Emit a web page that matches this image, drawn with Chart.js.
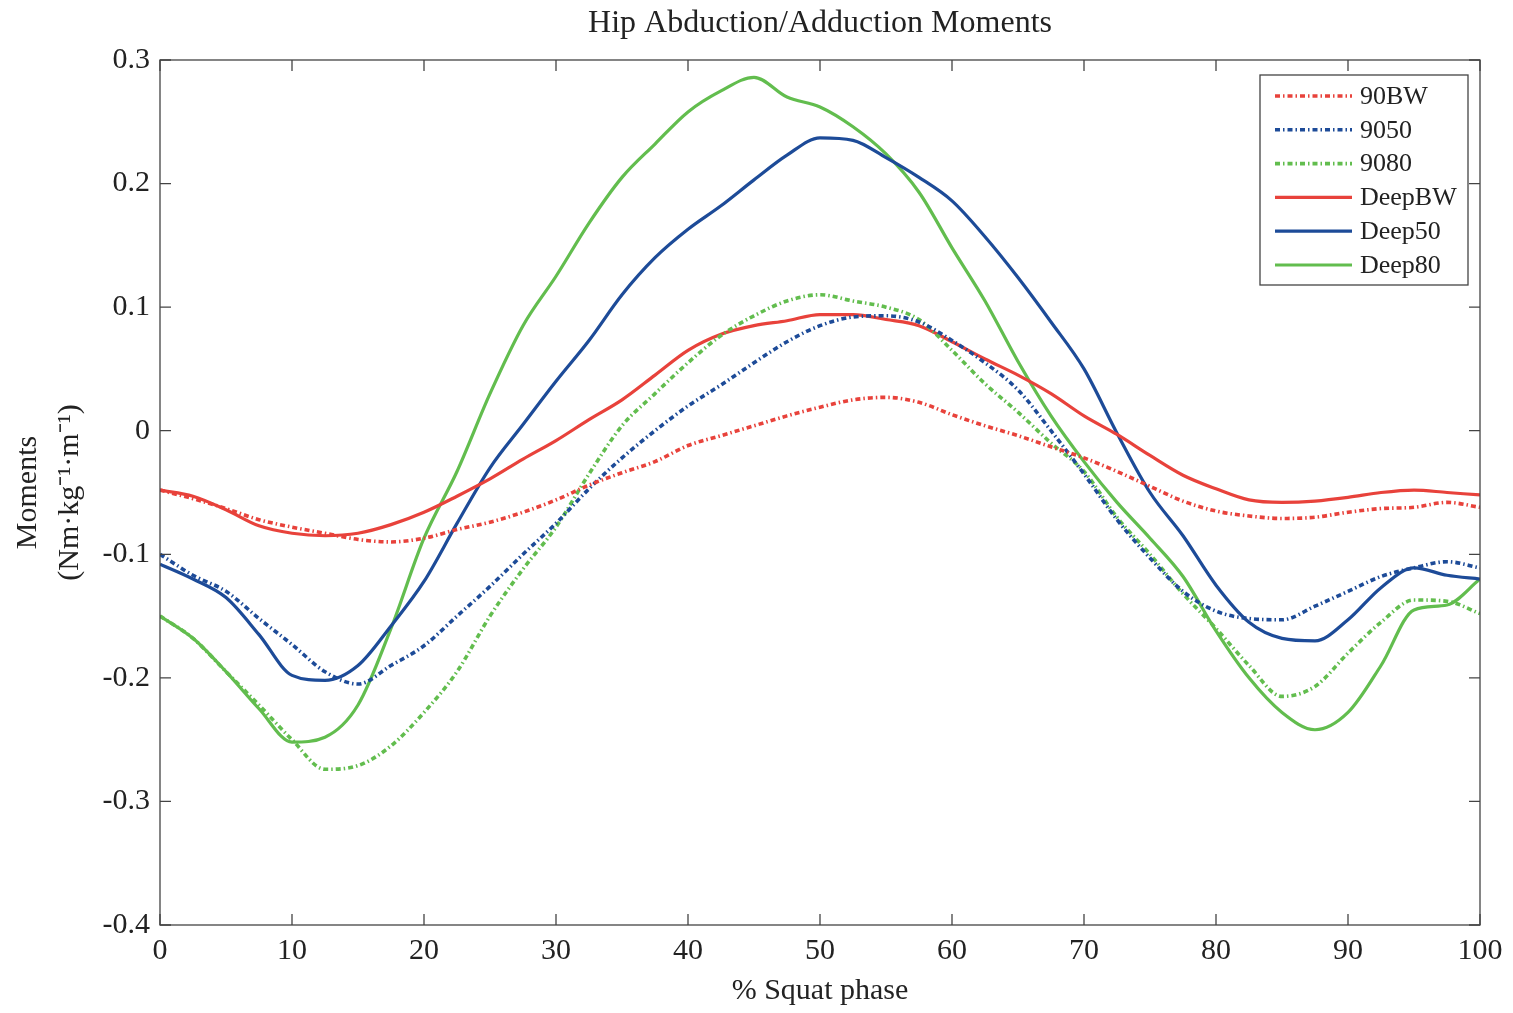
<!DOCTYPE html>
<html>
<head>
<meta charset="utf-8">
<script src="https://cdn.jsdelivr.net/npm/chart.js@4/dist/chart.umd.min.js"></script>
<style>
  html, body { margin: 0; padding: 0; background: #fff; }
  #wrap { width: 1513px; height: 1013px; }
</style>
</head>
<body>
<div id="wrap"><canvas id="chart" width="1513" height="1013"></canvas></div>
<script>
// % squat phase (x values)
const phase = [0, 2.5, 5, 7.5, 10, 12.5, 15, 17.5, 20, 22.5, 25, 27.5, 30, 32.5, 35, 37.5, 40, 42.5, 45, 47.5,
               50, 52.5, 55, 57.5, 60, 62.5, 65, 67.5, 70, 72.5, 75, 77.5, 80, 82.5, 85, 87.5, 90, 92.5, 95, 97.5, 100];

// moments (Nm/kg/m)
const bw90 = [-0.048, -0.055, -0.063, -0.072, -0.078, -0.083, -0.088, -0.090, -0.087, -0.080, -0.074, -0.066, -0.056, -0.044,
              -0.034, -0.025, -0.012, -0.004, 0.004, 0.012, 0.019, 0.025, 0.027, 0.023, 0.013, 0.004, -0.004, -0.013,
              -0.022, -0.033, -0.045, -0.057, -0.065, -0.069, -0.071, -0.070, -0.066, -0.063, -0.062, -0.058, -0.062];
const s9050 = [-0.100, -0.117, -0.130, -0.152, -0.173, -0.195, -0.205, -0.190, -0.174, -0.150, -0.126, -0.100, -0.075, -0.047,
               -0.022, 0.000, 0.020, 0.037, 0.055, 0.072, 0.085, 0.092, 0.093, 0.088, 0.073, 0.055, 0.033, 0.000,
               -0.035, -0.072, -0.103, -0.130, -0.146, -0.152, -0.153, -0.142, -0.130, -0.118, -0.111, -0.106, -0.111];
const s9080 = [-0.150, -0.168, -0.195, -0.222, -0.250, -0.274, -0.271, -0.255, -0.228, -0.195, -0.150, -0.112, -0.078, -0.035,
               0.004, 0.030, 0.055, 0.077, 0.093, 0.105, 0.110, 0.105, 0.100, 0.090, 0.065, 0.038, 0.015, -0.010,
               -0.033, -0.070, -0.100, -0.132, -0.160, -0.190, -0.215, -0.207, -0.180, -0.155, -0.137, -0.138, -0.148];
const deepBW = [-0.048, -0.053, -0.064, -0.077, -0.083, -0.085, -0.083, -0.076, -0.066, -0.053, -0.039, -0.023, -0.008, 0.009,
                0.025, 0.045, 0.065, 0.078, 0.085, 0.089, 0.094, 0.094, 0.090, 0.085, 0.072, 0.058, 0.045, 0.030,
                0.012, -0.003, -0.020, -0.036, -0.047, -0.056, -0.058, -0.057, -0.054, -0.050, -0.048, -0.050, -0.052];
const deep50 = [-0.108, -0.120, -0.135, -0.165, -0.198, -0.202, -0.190, -0.158, -0.122, -0.075, -0.030, 0.005, 0.040, 0.073,
                0.110, 0.140, 0.163, 0.182, 0.203, 0.223, 0.237, 0.235, 0.221, 0.205, 0.186, 0.157, 0.124, 0.088,
                0.050, -0.002, -0.050, -0.085, -0.125, -0.155, -0.168, -0.170, -0.153, -0.127, -0.111, -0.117, -0.120];
const deep80 = [-0.150, -0.168, -0.195, -0.225, -0.252, -0.248, -0.222, -0.160, -0.087, -0.033, 0.030, 0.085, 0.125, 0.168,
                0.205, 0.232, 0.258, 0.275, 0.286, 0.270, 0.262, 0.246, 0.224, 0.193, 0.148, 0.105, 0.056, 0.012,
                -0.025, -0.058, -0.087, -0.118, -0.162, -0.200, -0.228, -0.242, -0.228, -0.190, -0.145, -0.141, -0.120];

const seriesNames = ['90BW', '9050', '9080', 'DeepBW', 'Deep50', 'Deep80'];
const seriesValues = [bw90, s9050, s9080, deepBW, deep50, deep80];

const RED = '#e8423b';
const BLUE = '#1d4b98';
const GREEN = '#62bd4e';
const colors = [RED, BLUE, GREEN, RED, BLUE, GREEN];
const dashed = [true, true, true, false, false, false];
const FONT = "'Liberation Serif', 'Times New Roman', serif";

const datasets = seriesNames.map((name, i) => ({
    label: name,
    data: phase.map((x, j) => ({ x: x, y: seriesValues[i][j] })),
    borderColor: colors[i],
    backgroundColor: colors[i],
    borderWidth: dashed[i] ? 3.6 : 3.2,
    borderDash: dashed[i] ? [5, 3, 1.5, 3] : [],
    pointRadius: 0,
    cubicInterpolationMode: 'monotone',
    fill: false
}));

// matlab style box with inward ticks on all four sides
const boxPlugin = {
    id: 'boxTicks',
    afterDraw(chart) {
        const { ctx, chartArea: a, scales } = chart;
        ctx.save();
        ctx.strokeStyle = '#444';
        ctx.lineWidth = 1.3;
        ctx.strokeRect(a.left, a.top, a.right - a.left, a.bottom - a.top);
        const len = 11;
        ctx.beginPath();
        scales.x.ticks.forEach(t => {
            const px = scales.x.getPixelForValue(t.value);
            ctx.moveTo(px, a.bottom); ctx.lineTo(px, a.bottom - len);
            ctx.moveTo(px, a.top); ctx.lineTo(px, a.top + len);
        });
        scales.y.ticks.forEach(t => {
            const py = scales.y.getPixelForValue(t.value);
            ctx.moveTo(a.left, py); ctx.lineTo(a.left + len, py);
            ctx.moveTo(a.right, py); ctx.lineTo(a.right - len, py);
        });
        ctx.stroke();
        ctx.restore();
    }
};

// legend box in the upper right corner of the plot
const legendPlugin = {
    id: 'boxLegend',
    afterDatasetsDraw(chart) {
        const { ctx, chartArea: a } = chart;
        const x0 = a.right - 220, y0 = a.top + 15, w = 208, h = 210;
        ctx.save();
        ctx.fillStyle = '#fff';
        ctx.fillRect(x0, y0, w, h);
        ctx.strokeStyle = '#444';
        ctx.lineWidth = 1.3;
        ctx.strokeRect(x0, y0, w, h);
        ctx.font = '26px ' + FONT;
        ctx.textBaseline = 'middle';
        chart.data.datasets.forEach((ds, i) => {
            const y = y0 + 21 + i * 33.8;
            ctx.strokeStyle = ds.borderColor;
            ctx.lineWidth = ds.borderWidth;
            ctx.setLineDash(ds.borderDash);
            ctx.beginPath();
            ctx.moveTo(x0 + 15, y);
            ctx.lineTo(x0 + 92, y);
            ctx.stroke();
            ctx.setLineDash([]);
            ctx.fillStyle = '#222';
            ctx.fillText(ds.label, x0 + 100, y + 1);
        });
        ctx.restore();
    }
};

new Chart(document.getElementById('chart'), {
    type: 'line',
    data: { datasets: datasets },
    plugins: [boxPlugin, legendPlugin],
    options: {
        responsive: false,
        animation: false,
        layout: { padding: { left: 0, right: 33, top: 0, bottom: 0 } },
        plugins: {
            legend: { display: false },
            tooltip: { enabled: false },
            title: {
                display: true,
                text: 'Hip Abduction/Adduction Moments',
                fullSize: false,
                color: '#222',
                font: { family: FONT, size: 32, weight: 'normal', lineHeight: 1.2 },
                padding: { top: 4, bottom: 17.6 }
            }
        },
        scales: {
            x: {
                type: 'linear',
                min: 0,
                max: 100,
                ticks: {
                    stepSize: 10,
                    color: '#222',
                    padding: 8,
                    maxRotation: 0,
                    font: { family: FONT, size: 30 }
                },
                grid: { display: false, drawTicks: false },
                border: { display: false },
                title: {
                    display: true,
                    text: '% Squat phase',
                    color: '#222',
                    font: { family: FONT, size: 30, lineHeight: 1.2 },
                    padding: { top: 4, bottom: 4 }
                },
                afterFit(scale) { scale.height = 88; }
            },
            y: {
                min: -0.4,
                max: 0.3,
                ticks: {
                    stepSize: 0.1,
                    color: '#222',
                    padding: 10,
                    font: { family: FONT, size: 30 },
                    callback: v => String(Math.round(v * 10) / 10)
                },
                grid: { display: false, drawTicks: false },
                border: { display: false },
                title: {
                    display: true,
                    text: ['Moments', '(Nm\u00b7kg\u207b\u00b9\u00b7m\u207b\u00b9)'],
                    color: '#222',
                    font: { family: FONT, size: 30, lineHeight: 1.4 },
                    padding: { top: 7, bottom: 4 }
                },
                afterFit(scale) { scale.width = 160; }
            }
        }
    }
});
</script>
</body>
</html>
